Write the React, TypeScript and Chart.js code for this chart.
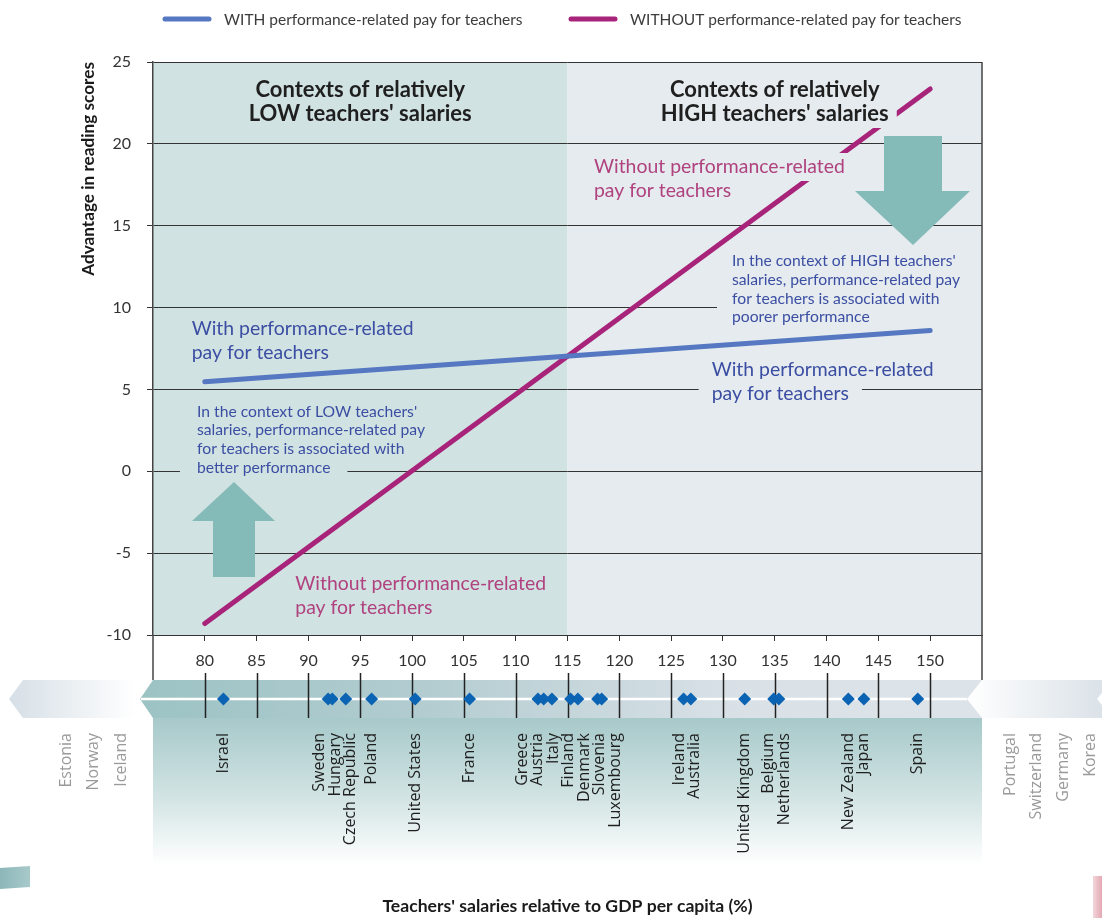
import React, { useEffect, useRef } from "react";
import { Chart, registerables } from "chart.js";

Chart.register(...registerables);

const FONT = "Lato, 'Open Sans', sans-serif";
const LABEL_FONT = "'Open Sans', Lato, sans-serif";

// ---------------- data ----------------
const seriesLabels = [
  "WITH performance-related pay for teachers",
  "WITHOUT performance-related pay for teachers",
];
const withPaySalary = [80, 150];
const withPayAdvantage = [5.47, 8.6];
const withoutPaySalary = [80, 150];
const withoutPayAdvantage = [-9.3, 23.35];

const yTickValues = [-10, -5, 0, 5, 10, 15, 20, 25];
const xTickValues = [80, 85, 90, 95, 100, 105, 110, 115, 120, 125, 130, 135, 140, 145, 150];
const salaryBoundary = 115;

const countryNames = [
  "Israel", "Sweden", "Hungary", "Czech Republic", "Poland", "United States", "France",
  "Greece", "Austria", "Italy", "Finland", "Denmark", "Slovenia", "Luxembourg",
  "Ireland", "Australia", "United Kingdom", "Belgium", "Netherlands", "New Zealand", "Japan", "Spain",
];
const countrySalaries = [
  81.8, 91.9, 92.3, 93.6, 96.1, 100.3, 105.55,
  112.15, 112.7, 113.5, 115.3, 116.0, 117.9, 118.3,
  126.2, 126.9, 132.1, 134.9, 135.4, 142.1, 143.6, 148.8,
];
const belowRangeCountries = ["Estonia", "Norway", "Iceland"];
const aboveRangeCountries = ["Portugal", "Switzerland", "Germany", "Korea"];

const lowTitle = ["Contexts of relatively", "LOW teachers' salaries"];
const highTitle = ["Contexts of relatively", "HIGH teachers' salaries"];
const lowNote = [
  "In the context of LOW teachers'",
  "salaries, performance-related pay",
  "for teachers is associated with",
  "better performance",
];
const highNote = [
  "In the context of HIGH teachers'",
  "salaries, performance-related pay",
  "for teachers is associated with",
  "poorer performance",
];
const withLabel = ["With performance-related", "pay for teachers"];
const withoutLabel = ["Without performance-related", "pay for teachers"];
const yAxisTitle = "Advantage in reading scores";
const xAxisTitle = "Teachers' salaries relative to GDP per capita (%)";

// ---------------- styles ----------------
const BLUE_LINE = "#5677c1";
const MAGENTA_LINE = "#a8237a";
const BLUE_TEXT = "#3b4ea3";
const MAGENTA_TEXT = "#b0427f";
const LOW_BG = "#d0e2e1";
const HIGH_BG = "#e5ebee";
const ARROW = "#84bab8";
const DIAMOND = "#0b63b3";
const AXIS = "#333333";

type Box = { padX: number; half: number; bg: string; only?: number[] };

function drawLines(
  ctx: CanvasRenderingContext2D,
  lines: string[],
  x: number,
  y0: number,
  lh: number,
  font: string,
  color: string,
  align: CanvasTextAlign,
  box?: Box
) {
  ctx.font = font;
  if (box) {
    lines.forEach((t, i) => {
      if (box.only && !box.only.includes(i)) return;
      const w = ctx.measureText(t).width;
      const left = align === "center" ? x - w / 2 : x;
      ctx.fillStyle = box.bg;
      ctx.fillRect(left - box.padX, y0 + i * lh - box.half, w + 2 * box.padX, 2 * box.half);
    });
  }
  ctx.fillStyle = color;
  ctx.textAlign = align;
  ctx.textBaseline = "middle";
  lines.forEach((t, i) => ctx.fillText(t, x, y0 + i * lh));
}

function spreadLabels(px: number[], gap: number): number[] {
  const clusters: { idx: number[]; sum: number }[] = [];
  px.forEach((p, i) => {
    clusters.push({ idx: [i], sum: p });
    while (clusters.length > 1) {
      const c = clusters[clusters.length - 1];
      const q = clusters[clusters.length - 2];
      const qEnd = q.sum / q.idx.length + ((q.idx.length - 1) * gap) / 2;
      const cStart = c.sum / c.idx.length - ((c.idx.length - 1) * gap) / 2;
      if (cStart - qEnd < gap) {
        q.idx.push(...c.idx);
        q.sum += c.sum;
        clusters.pop();
      } else break;
    }
  });
  const out: number[] = new Array(px.length);
  clusters.forEach((c) => {
    const m = c.sum / c.idx.length;
    c.idx.forEach((k, j) => (out[k] = m + (j - (c.idx.length - 1) / 2) * gap));
  });
  return out;
}

function poly(ctx: CanvasRenderingContext2D, pts: number[][], fill: string | CanvasGradient) {
  ctx.beginPath();
  pts.forEach(([px, py], i) => (i ? ctx.lineTo(px, py) : ctx.moveTo(px, py)));
  ctx.closePath();
  ctx.fillStyle = fill;
  ctx.fill();
}

const STRIP_TOP = 680;
const STRIP_BOTTOM = 718;
const STRIP_MID = 699;

const decorPlugin = {
  id: "decor",
  beforeDraw(chart: any) {
    const { ctx, chartArea: a, scales } = chart;
    const x = scales.x;
    const xb = x.getPixelForValue(salaryBoundary);
    ctx.save();
    ctx.fillStyle = LOW_BG;
    ctx.fillRect(a.left, a.top, xb - a.left, a.bottom - a.top);
    ctx.fillStyle = HIGH_BG;
    ctx.fillRect(xb, a.top, a.right - xb, a.bottom - a.top);

    // left out-of-range arrow
    const gL = ctx.createLinearGradient(9, 0, 135, 0);
    gL.addColorStop(0, "#d6dfe6");
    gL.addColorStop(1, "#ffffff");
    poly(ctx, [[9, STRIP_MID], [23, STRIP_TOP], [135, STRIP_TOP], [135, STRIP_BOTTOM], [23, STRIP_BOTTOM]], gL);

    // area below strip
    const gB = ctx.createLinearGradient(0, STRIP_BOTTOM, 0, 865);
    gB.addColorStop(0, "#a7c9ca");
    gB.addColorStop(0.55, "#d3e4e4");
    gB.addColorStop(1, "#ffffff");
    ctx.fillStyle = gB;
    ctx.fillRect(a.left, STRIP_BOTTOM, a.right - a.left, 865 - STRIP_BOTTOM);

    // main strip
    const gS = ctx.createLinearGradient(140, 0, a.right, 0);
    gS.addColorStop(0, "#9cc3c4");
    gS.addColorStop(0.33, "#b2ccd0");
    gS.addColorStop(0.55, "#c9d8dd");
    gS.addColorStop(0.71, "#d9e1e7");
    gS.addColorStop(1, "#dde4e9");
    poly(ctx, [[140, STRIP_MID], [a.left, STRIP_TOP], [a.right, STRIP_TOP], [a.right, STRIP_BOTTOM], [a.left, STRIP_BOTTOM]], gS);

    // right out-of-range arrow
    const gR = ctx.createLinearGradient(a.right - 15, 0, 1102, 0);
    gR.addColorStop(0, "#ffffff");
    gR.addColorStop(1, "#dbe2e8");
    poly(ctx, [[a.right - 15, STRIP_MID], [a.right, STRIP_TOP], [1102, STRIP_TOP], [1102, STRIP_BOTTOM], [a.right, STRIP_BOTTOM]], gR);
    poly(ctx, [[1097, STRIP_MID], [1112, STRIP_TOP], [1112, STRIP_BOTTOM]], "#ffffff");

    // white guide line
    ctx.strokeStyle = "#ffffff";
    ctx.lineWidth = 2.5;
    ctx.beginPath();
    ctx.moveTo(141, STRIP_MID);
    ctx.lineTo(a.right - 15, STRIP_MID);
    ctx.stroke();

    // small decorations at page corners
    const gC = ctx.createLinearGradient(0, 0, 30, 0);
    gC.addColorStop(0, "#8cb7b9");
    gC.addColorStop(1, "#a8c9ca");
    poly(ctx, [[0, 868], [30, 866], [30, 887], [0, 889]], gC);
    const gP = ctx.createLinearGradient(1093, 0, 1102, 0);
    gP.addColorStop(0, "#f3d6db");
    gP.addColorStop(1, "#e4a8b3");
    ctx.fillStyle = gP;
    ctx.fillRect(1093, 876, 9, 42);
    ctx.restore();
  },
  afterDatasetsDraw(chart: any) {
    const { ctx, chartArea: a } = chart;
    ctx.save();
    const cL = (a.left + chart.scales.x.getPixelForValue(salaryBoundary)) / 2;
    const cR = (chart.scales.x.getPixelForValue(salaryBoundary) + a.right) / 2;

    // arrows
    poly(ctx, [[192, 521], [275, 521], [234, 482]], ARROW);
    ctx.fillStyle = ARROW;
    ctx.fillRect(213, 520, 42, 57);
    ctx.fillRect(884, 136, 58, 56);
    poly(ctx, [[855, 191], [970, 191], [913, 245]], ARROW);

    // titles
    const titleFont = `bold 22px ${FONT}`;
    drawLines(ctx, lowTitle, cL, 90, 24, titleFont, "#1f1f1f", "center");
    drawLines(ctx, highTitle, cR, 90, 24, titleFont, "#1f1f1f", "center", { padX: 8, half: 14, bg: HIGH_BG });

    // notes
    const noteFont = `15.7px ${FONT}`;
    drawLines(ctx, lowNote, 197, 411.7, 18.7, noteFont, BLUE_TEXT, "left", { padX: 17, half: 9.5, bg: LOW_BG });
    ctx.fillStyle = HIGH_BG;
    ctx.fillRect(717, 250, a.right - 717, 77);
    drawLines(ctx, highNote, 732, 261, 18.8, noteFont, BLUE_TEXT, "left");

    const bigFont = `19.4px ${FONT}`;
    drawLines(ctx, withLabel, 191.7, 329, 24, bigFont, BLUE_TEXT, "left");
    drawLines(ctx, withLabel, 711.7, 370, 24, bigFont, BLUE_TEXT, "left", { padX: 13, half: 12, bg: HIGH_BG, only: [1] });
    drawLines(ctx, withoutLabel, 295.3, 584, 24, bigFont, MAGENTA_TEXT, "left");
    drawLines(ctx, withoutLabel, 594, 167, 24, bigFont, MAGENTA_TEXT, "left", { padX: 8, half: 14, bg: HIGH_BG, only: [0] });
    ctx.restore();
  },
  afterDraw(chart: any) {
    const { ctx, chartArea: a, scales } = chart;
    const x = scales.x;
    ctx.save();

    // extended frame lines
    ctx.strokeStyle = "#444";
    ctx.lineWidth = 1.5;
    ctx.beginPath();
    ctx.moveTo(a.left, a.bottom);
    ctx.lineTo(a.left, STRIP_TOP);
    ctx.moveTo(a.right, a.top);
    ctx.lineTo(a.right, STRIP_TOP);
    ctx.stroke();

    // strip ticks
    ctx.strokeStyle = "#222";
    ctx.lineWidth = 1.5;
    ctx.beginPath();
    xTickValues.forEach((v) => {
      const px = Math.round(x.getPixelForValue(v)) + 0.5;
      ctx.moveTo(px, 673);
      ctx.lineTo(px, STRIP_BOTTOM);
    });
    ctx.stroke();

    // diamonds
    const order = countrySalaries.map((_, i) => i).sort((p, q) => countrySalaries[p] - countrySalaries[q]);
    const px = order.map((i) => x.getPixelForValue(countrySalaries[i]));
    px.forEach((p) => {
      poly(ctx, [[p, STRIP_MID - 6.5], [p + 6.5, STRIP_MID], [p, STRIP_MID + 6.5], [p - 6.5, STRIP_MID]], DIAMOND);
    });

    // country labels
    const lx = spreadLabels(px, 15.5);
    ctx.font = `16px ${LABEL_FONT}`;
    ctx.textAlign = "right";
    ctx.textBaseline = "middle";
    const rot = (t: string, cx: number, color: string) => {
      ctx.save();
      ctx.translate(cx, 733);
      ctx.rotate(-Math.PI / 2);
      ctx.fillStyle = color;
      ctx.fillText(t, 0, 0);
      ctx.restore();
    };
    order.forEach((i, k) => rot(countryNames[i], lx[k], "#1e1e1e"));
    belowRangeCountries.forEach((t, i) => rot(t, 121.5 - (belowRangeCountries.length - 1 - i) * 27.6, "#9a9a9a"));
    aboveRangeCountries.forEach((t, i) => rot(t, 1010 + i * 26.8, "#9a9a9a"));

    // legend
    const legendItems = [
      { x0: 165, x1: 209, tx: 224, color: BLUE_LINE },
      { x0: 571, x1: 615, tx: 630, color: MAGENTA_LINE },
    ];
    ctx.lineCap = "round";
    legendItems.forEach((it, i) => {
      ctx.strokeStyle = it.color;
      ctx.lineWidth = 5;
      ctx.beginPath();
      ctx.moveTo(it.x0, 19);
      ctx.lineTo(it.x1, 19);
      ctx.stroke();
      ctx.font = `15.5px ${FONT}`;
      ctx.fillStyle = "#3c3c3c";
      ctx.textAlign = "left";
      ctx.textBaseline = "middle";
      ctx.fillText(seriesLabels[i], it.tx, 20);
    });
    ctx.restore();
  },
};

export default function App() {
  const ref = useRef<HTMLCanvasElement | null>(null);
  useEffect(() => {
    if (!ref.current) return;
    const tickFont = { family: FONT, size: 16 };
    const chart = new Chart(ref.current, {
      type: "line",
      data: {
        datasets: [
          {
            label: seriesLabels[0],
            data: withPaySalary.map((v, i) => ({ x: v, y: withPayAdvantage[i] })),
            borderColor: BLUE_LINE,
            borderWidth: 5,
            borderCapStyle: "round",
            pointRadius: 0,
            tension: 0,
          },
          {
            label: seriesLabels[1],
            data: withoutPaySalary.map((v, i) => ({ x: v, y: withoutPayAdvantage[i] })),
            borderColor: MAGENTA_LINE,
            borderWidth: 5,
            borderCapStyle: "round",
            pointRadius: 0,
            tension: 0,
          },
        ],
      },
      options: {
        responsive: true,
        maintainAspectRatio: false,
        animation: false,
        events: [],
        layout: { padding: { left: 0, right: 120, top: 62, bottom: 0 } },
        plugins: { legend: { display: false }, tooltip: { enabled: false } },
        scales: {
          x: {
            type: "linear",
            min: 75,
            max: 155,
            afterBuildTicks: (s: any) => {
              s.ticks = xTickValues.map((v) => ({ value: v }));
            },
            afterFit: (s: any) => {
              s.height = 283;
            },
            grid: { drawOnChartArea: false, drawTicks: true, tickLength: 6, color: AXIS, lineWidth: 1 },
            border: { display: true, color: AXIS, width: 1 },
            ticks: { padding: 10, color: "#333", font: tickFont, autoSkip: false, maxRotation: 0, minRotation: 0 },
            title: {
              display: true,
              text: xAxisTitle,
              color: "#1a1a1a",
              font: { family: FONT, size: 17.6, weight: "bold" },
              padding: { top: 0, bottom: 1 },
            },
          },
          y: {
            min: -10,
            max: 25,
            afterBuildTicks: (s: any) => {
              s.ticks = yTickValues.map((v) => ({ value: v }));
            },
            afterFit: (s: any) => {
              s.width = 153;
            },
            grid: { color: AXIS, lineWidth: 1, tickLength: 6 },
            border: { display: true, color: "#444", width: 1.5 },
            ticks: { padding: 16, color: "#333", font: tickFont },
            title: {
              display: true,
              text: yAxisTitle,
              align: "end",
              color: "#1a1a1a",
              font: { family: FONT, size: 17.2, weight: "bold" },
              padding: { top: 77.7, bottom: 0 },
            },
          },
        },
      },
      plugins: [decorPlugin],
    } as any);
    return () => chart.destroy();
  }, []);
  return (
    <div style={{ position: "absolute", left: 0, top: 0, width: 1102, height: 918 }}>
      <canvas ref={ref} />
    </div>
  );
}
